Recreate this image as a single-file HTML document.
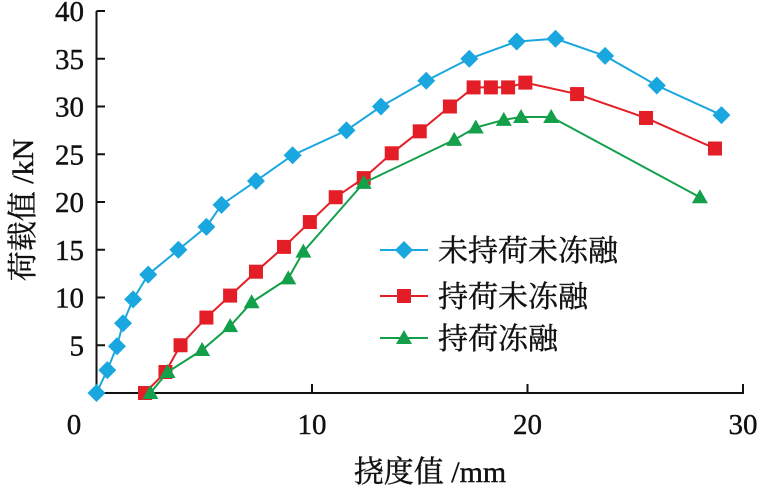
<!DOCTYPE html>
<html><head><meta charset="utf-8"><style>
body{margin:0;background:#fff}
svg{display:block}
text{font-family:"Liberation Serif","Noto Serif CJK SC",serif;fill:#111;stroke:#111;stroke-width:0.4}
</style></head><body>
<svg id="c" width="763" height="492"></svg>
<script>
const xTicks=[10,20,30];
const yTicks=[5,10,15,20,25,30,35,40];
const seriesNames=["未持荷未冻融","持荷未冻融","持荷冻融"];
const blueX=[0,0.5,0.95,1.23,1.7,2.4,3.8,5.1,5.8,7.4,9.1,11.6,13.2,15.3,17.3,19.5,21.3,23.6,26.0,29.0];
const blueY=[0,2.4,4.9,7.3,9.8,12.4,15.0,17.4,19.7,22.2,24.9,27.5,30.0,32.7,35.0,36.8,37.1,35.3,32.2,29.1];
const redX=[2.25,3.2,3.9,5.1,6.2,7.4,8.7,9.9,11.1,12.4,13.7,15.0,16.4,17.5,18.3,19.1,19.9,22.3,25.5,28.7];
const redY=[0,2.2,5.0,7.9,10.2,12.7,15.3,17.9,20.5,22.5,25.1,27.4,30.0,32.0,32.0,32.0,32.5,31.3,28.8,25.6];
const greenX=[2.5,3.3,4.9,6.2,7.2,8.9,9.6,12.4,16.6,17.6,18.9,19.7,21.1,28.0];
const greenY=[0,2.2,4.5,7.0,9.5,12.0,14.8,22.0,26.5,27.8,28.6,28.9,28.9,20.5];
const NS="http://www.w3.org/2000/svg";
const svg=document.getElementById('c');
const sx=v=>96.5+v*21.55, sy=v=>393-v*9.55;
function mk(t,a,p){const e=document.createElementNS(NS,t);for(const k in a)e.setAttribute(k,a[k]);(p||svg).appendChild(e);return e;}
let e;
e=mk('line',{x1:96.5,y1:sy(0),x2:sx(30)+1,y2:sy(0),stroke:'#111','stroke-width':2});


e=mk('line',{x1:96.5,y1:sy(0)+1,x2:96.5,y2:sy(40),stroke:'#111','stroke-width':2});


e=mk('text',{x:74,y:434,'font-size':29,'text-anchor':'middle'});e.textContent='0';


xTicks.forEach(t=>{
 e=mk('line',{x1:sx(t),y1:sy(0),x2:sx(t),y2:sy(0)-9,stroke:'#111','stroke-width':2});
 
 
 e=mk('text',{x:sx(t),y:434,'font-size':29,'text-anchor':'middle'});e.textContent=t;
 
 
});
yTicks.forEach(t=>{
 e=mk('line',{x1:96.5,y1:sy(t),x2:105,y2:sy(t),stroke:'#111','stroke-width':2});
 
 
 e=mk('text',{x:84,y:sy(t)+10,'font-size':29,'text-anchor':'end'});e.textContent=t;
 
 
});
e=mk('text',{x:430,y:482,'font-size':30,'text-anchor':'middle'});e.textContent='挠度值 /mm';


e=mk('text',{x:0,y:0,'font-size':30,'text-anchor':'middle',transform:'translate(33,210) rotate(-90)'});e.textContent='荷载值 /kN';


function marker(g,shape,x,y,c){
 if(shape==='d')return mk('polygon',{points:`${x},${y-9} ${x+9},${y} ${x},${y+9} ${x-9},${y}`,fill:c},g);
 if(shape==='s')return mk('rect',{x:x-7,y:y-7,width:14,height:14,fill:c},g);
 return mk('polygon',{points:`${x},${y-8} ${x+8},${y+6} ${x-8},${y+6}`,fill:c},g);
}
const S=[[blueX,blueY,'#1aa7e0','d'],[redX,redY,'#e41e26','s'],[greenX,greenY,'#14a04a','t']];
const sNames=['series-unloaded-unfrozen','series-loaded-unfrozen','series-loaded-frozen'];
S.forEach((s,i)=>{
 const g=mk('g',{});
 
 
 const pl=mk('polyline',{points:s[0].map((x,j)=>sx(x)+','+sy(s[1][j])).join(' '),fill:'none',stroke:s[2],'stroke-width':2},g);
 
 
 s[0].forEach((x,j)=>{
  const m=marker(g,s[3],sx(x),sy(s[1][j]),s[2]);
  
  
 });
 const ly=[250,296,338][i];
 const lg=mk('g',{},svg);
 
 
 mk('line',{x1:380,y1:ly,x2:428,y2:ly,stroke:s[2],'stroke-width':2},lg);
 marker(lg,s[3],404,ly,s[2]);
 const t=mk('text',{x:438,y:ly+11,'font-size':30},lg);t.textContent=seriesNames[i];
});
</script>
</body></html>
